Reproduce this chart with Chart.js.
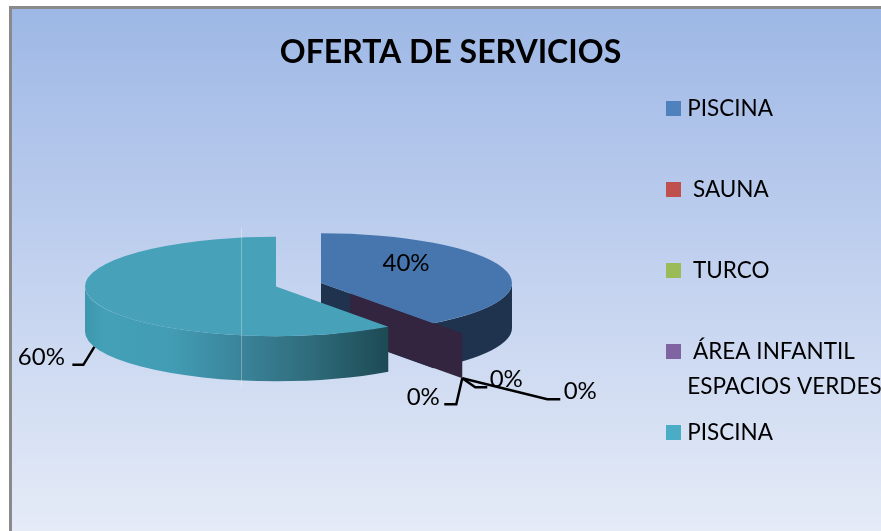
<!DOCTYPE html>
<html>
<head>
<meta charset="utf-8">
<style>html,body{margin:0;padding:0;background:#fff}canvas{display:block}</style>
<script src="https://cdn.jsdelivr.net/npm/chart.js@4/dist/chart.umd.js"></script>
</head>
<body>
<canvas id="c" width="881" height="531"></canvas>
<script>
const chartTitle = "OFERTA DE SERVICIOS";
const categories = ["PISCINA", " SAUNA", " TURCO", [" ÁREA INFANTIL", "ESPACIOS VERDES"], "PISCINA"];
const values = [40, 0, 0, 0, 60];
const topColors = ["#4776ae", "#c0504d", "#9bbb59", "#8064a2", "#47a1b9"];
const legendColors = ["#4f81bd", "#c0504d", "#9bbb59", "#8064a2", "#4bacc6"];

const FONT = "Lato, Carlito, sans-serif";
const SQUASH = 0.26, DEPTH = 45, RADIUS = 191;
const CX = 298.5, CY = 285.5;
const shifts = [[22.5,-2.5],[51.5,7.5],[51.5,7.5],[51.5,7.5],[-22.5,1]];
const leaders = [null, [[-6,26],[-18,26]], [[13,9],[25,9]], [[85,21],[98,21]], [[-11,18],[-22,18]]];
const labelOffsets = [null, [-39,19], [44,1], [118,13], [-53,10.5]];

function screenY(y){ return CY + (y - CY) * SQUASH; }

const pie3d = {
  id: "pie3d",
  beforeDraw(chart){
    const ctx = chart.ctx;
    ctx.save();
    ctx.fillStyle = "#fff";
    ctx.fillRect(0,0,chart.width,chart.height);
    ctx.fillStyle = "#8a8a8a";
    ctx.fillRect(9,6,chart.width-9,chart.height-6);
    const g = ctx.createLinearGradient(0,9,0,chart.height);
    g.addColorStop(0,"#9db8e5");
    g.addColorStop(0.22,"#aec3ea");
    g.addColorStop(1,"#e5ebf7");
    ctx.fillStyle = g;
    ctx.fillRect(12,9,chart.width-12,chart.height-9);
    ctx.restore();
  },
  afterLayout(chart){
    const ca = chart.chartArea;
    ca.left = CX-210; ca.right = CX+210; ca.top = CY-50; ca.bottom = CY+50;
    ca.width = 420; ca.height = 100;
    const t = chart.titleBlock;
    t.left = 20; t.right = chart.width; t.top = 33; t.bottom = 72;
    const l = chart.legend;
    l.left = 612.5; l.right = chart.width; l.top = 38.75; l.bottom = chart.height;
  },
  afterDatasetsUpdate(chart){
    chart.getDatasetMeta(0).data.forEach((el,i)=>{
      el.x += shifts[i][0];
      el.y += shifts[i][1] / SQUASH;
    });
  },
  beforeDatasetsDraw(chart){
    const ctx = chart.ctx, arcs = chart.getDatasetMeta(0).data;
    const blue = arcs[0], teal = arcs[4], zero = arcs[3];
    ctx.save();
    // blue: cut face and outer wall
    const bx = blue.x, by = screenY(blue.y), r = blue.outerRadius, ry = r*SQUASH;
    const ea = blue.endAngle;
    ctx.fillStyle = "#1f334f";
    ctx.beginPath();
    ctx.moveTo(bx,by);
    ctx.lineTo(bx+r*Math.cos(ea),by+ry*Math.sin(ea));
    ctx.lineTo(bx+r*Math.cos(ea),by+ry*Math.sin(ea)+DEPTH);
    ctx.lineTo(bx,by+DEPTH);
    ctx.closePath(); ctx.fill();
    ctx.beginPath();
    ctx.ellipse(bx,by,r,ry,0,0,ea);
    ctx.ellipse(bx,by+DEPTH,r,ry,0,ea,0,true);
    ctx.closePath(); ctx.fill();
    // zero-value slices: only their cut face shows
    const zx = zero.x, zy = screenY(zero.y), za = zero.startAngle;
    const zr = zero.outerRadius;
    ctx.fillStyle = "#33243f";
    ctx.beginPath();
    ctx.moveTo(zx,zy);
    ctx.lineTo(zx+zr*Math.cos(za),zy+zr*SQUASH*Math.sin(za));
    ctx.lineTo(zx+zr*Math.cos(za),zy+zr*SQUASH*Math.sin(za)+DEPTH);
    ctx.lineTo(zx,zy+DEPTH);
    ctx.closePath(); ctx.fill();
    // teal outer wall
    const tx = teal.x, ty = screenY(teal.y);
    const g = ctx.createLinearGradient(tx-r,0,tx+r*Math.cos(teal.startAngle),0);
    g.addColorStop(0,"#3d97ad");
    g.addColorStop(0.06,"#43a0b7");
    g.addColorStop(0.28,"#429db4");
    g.addColorStop(0.52,"#3a8399");
    g.addColorStop(0.75,"#2f6b7a");
    g.addColorStop(1,"#1c4a54");
    ctx.fillStyle = g;
    ctx.beginPath();
    ctx.ellipse(tx,ty,r,ry,0,teal.startAngle,Math.PI);
    ctx.ellipse(tx,ty+DEPTH,r,ry,0,Math.PI,teal.startAngle,true);
    ctx.closePath(); ctx.fill();
    ctx.restore();
  },
  beforeDatasetDraw(chart){
    const ctx = chart.ctx;
    ctx.save();
    ctx.translate(0,CY); ctx.scale(1,SQUASH); ctx.translate(0,-CY);
  },
  afterDatasetDraw(chart){ chart.ctx.restore(); },
  afterDraw(chart){
    const ctx = chart.ctx, arcs = chart.getDatasetMeta(0).data;
    const total = values.reduce((a,b)=>a+b,0);
    ctx.save();
    // faint seam in the picture
    ctx.strokeStyle = "rgba(255,255,255,0.3)";
    ctx.lineWidth = 1;
    ctx.beginPath(); ctx.moveTo(241.5,228); ctx.lineTo(241.5,387); ctx.stroke();

    ctx.font = "24px " + FONT;
    ctx.fillStyle = "#000";
    ctx.textAlign = "center";
    ctx.textBaseline = "middle";
    ctx.strokeStyle = "#000";
    ctx.lineWidth = 2.5;
    arcs.forEach((el,i)=>{
      const txt = Math.round(values[i]/total*100) + "%";
      const mid = (el.startAngle+el.endAngle)/2;
      const sy = screenY(el.y);
      if(!leaders[i]){
        ctx.fillText(txt, el.x + 85, sy - 20);
        return;
      }
      const ax = el.x + el.outerRadius*Math.cos(mid);
      const ay = sy + el.outerRadius*SQUASH*Math.sin(mid) + DEPTH;
      ctx.beginPath();
      ctx.moveTo(ax,ay);
      leaders[i].forEach(p=>ctx.lineTo(ax+p[0],ay+p[1]));
      ctx.stroke();
      ctx.fillText(txt, ax+labelOffsets[i][0], ay+labelOffsets[i][1]);
    });
    // second line of the wrapped legend entry
    const lab = categories[3];
    ctx.textAlign = "left";
    ctx.font = "22.5px " + FONT;
    ctx.fillText(lab[1], 687.25, 386.5);
    ctx.restore();
  }
};

new Chart(document.getElementById("c"), {
  type: "pie",
  plugins: [pie3d],
  data: {
    labels: categories,
    datasets: [{ data: values, backgroundColor: topColors, borderWidth: 0, clip: false }]
  },
  options: {
    responsive: false,
    animation: false,
    radius: RADIUS,
    plugins: {
      tooltip: { enabled: false },
      title: {
        display: true, text: chartTitle, color: "#000", padding: 0,
        font: { family: FONT, size: 32, weight: "bold" }
      },
      legend: {
        display: true, position: "right", align: "start",
        labels: {
          color: "#000",
          font: { family: FONT, size: 22.5 },
          boxWidth: 5, boxHeight: 5, padding: 58.5,
          generateLabels(){
            return categories.map((c,i)=>({
              text: Array.isArray(c) ? c[0] : c,
              fillStyle: legendColors[i], strokeStyle: legendColors[i],
              lineWidth: 10, lineJoin: "miter", hidden: false, index: i
            }));
          }
        }
      }
    }
  }
});
</script>
</body>
</html>
